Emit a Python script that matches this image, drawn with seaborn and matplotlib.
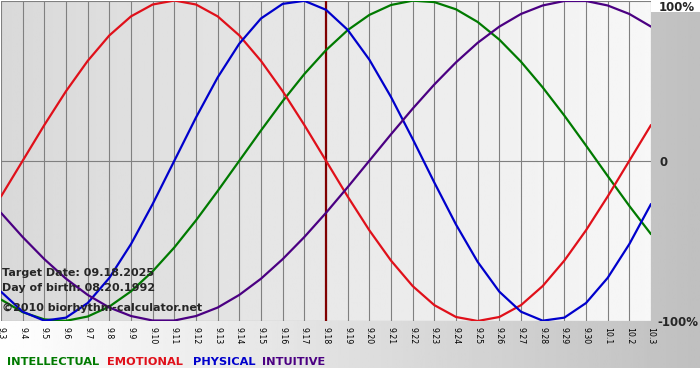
import numpy as np
import pandas as pd
import matplotlib
matplotlib.use('Agg')
import matplotlib.pyplot as plt
import seaborn as sns

# ---- data (percent, one value per day) ----
days = ['9.3', '9.4', '9.5', '9.6', '9.7', '9.8', '9.9', '9.10', '9.11', '9.12',
        '9.13', '9.14', '9.15', '9.16', '9.17', '9.18', '9.19', '9.20', '9.21', '9.22',
        '9.23', '9.24', '9.25', '9.26', '9.27', '9.28', '9.29', '9.30', '10.1', '10.2', '10.3']

physical = [-81.7, -94.2, -99.8, -97.9, -88.8, -73.1, -52.0, -27.0, 0.0, 27.0,
            52.0, 73.1, 88.8, 97.9, 99.8, 94.2, 81.7, 63.1, 39.8, 13.6,
            -13.6, -39.8, -63.1, -81.7, -94.2, -99.8, -97.9, -88.8, -73.1, -52.0, -27.0]
emotional = [-22.3, 0.0, 22.3, 43.4, 62.3, 78.2, 90.1, 97.5, 100.0, 97.5,
             90.1, 78.2, 62.3, 43.4, 22.3, 0.0, -22.3, -43.4, -62.3, -78.2,
             -90.1, -97.5, -100.0, -97.5, -90.1, -78.2, -62.3, -43.4, -22.3, 0.0, 22.3]
intellectual = [-86.6, -94.5, -99.0, -99.9, -97.2, -91.0, -81.5, -69.0, -54.1, -37.2,
                -18.9, 0.0, 18.9, 37.2, 54.1, 69.0, 81.5, 91.0, 97.2, 99.9,
                99.0, 94.5, 86.6, 75.6, 61.8, 45.8, 28.2, 9.5, -9.5, -28.2, -45.8]
intuitive = [-32.5, -47.6, -61.4, -73.6, -83.7, -91.6, -96.9, -99.7, -99.7, -96.9,
             -91.6, -83.7, -73.6, -61.4, -47.6, -32.5, -16.5, 0.0, 16.5, 32.5,
             47.6, 61.4, 73.6, 83.7, 91.6, 96.9, 99.7, 99.7, 96.9, 91.6, 83.7]

target_day = '9.18'
series_names = ['INTELLECTUAL', 'EMOTIONAL', 'PHYSICAL', 'INTUITIVE']
series_values = [intellectual, emotional, physical, intuitive]

colors = {'INTELLECTUAL': '#007a00', 'EMOTIONAL': '#e0101a',
          'PHYSICAL': '#0000cc', 'INTUITIVE': '#4b0082'}

frames = []
for name, vals in zip(series_names, series_values):
    frames.append(pd.DataFrame({'day': range(len(days)), 'value': vals, 'series': name}))
df = pd.concat(frames, ignore_index=True)

sns.set_theme(style='white')
plt.rcParams['font.family'] = ['DejaVu Sans']

W, H = 700, 380
fig = plt.figure(figsize=(7, 3.8), dpi=100)
fig.patch.set_facecolor('white')

# figure background gradient (white -> grey)
bg = fig.add_axes([0, 12 / H, 1, 356 / H], zorder=-1)
bg.imshow(np.linspace(1.0, 0.75, 256)[None, :], cmap='gray', vmin=0, vmax=1,
          aspect='auto', extent=[0, 1, 0, 1])
bg.axis('off')

ax = fig.add_axes([1 / W, 59 / H, 650 / W, 320.5 / H], zorder=1)
ax.imshow(np.linspace(0.85, 0.97, 256)[None, :], cmap='gray', vmin=0, vmax=1,
          aspect='auto', extent=[0, len(days) - 1, -100, 100], zorder=0)

sns.lineplot(data=df, x='day', y='value', hue='series', palette=colors,
             hue_order=series_names, legend=False, ax=ax, linewidth=1.6, zorder=3)

ax.axvline(days.index(target_day), color='#800000', lw=1.6, zorder=2)

ax.set_xlim(0, len(days) - 1)
ax.set_ylim(-100, 100)
ax.set_xticks(range(len(days)))
ax.set_xticklabels(days, rotation=270, fontsize=5.6)
ax.set_yticks([-100, 0, 100])
ax.grid(True, color='#808080', lw=0.8)
ax.tick_params(axis='x', length=2, width=0.8, color='#808080', pad=2, colors='black')
ax.tick_params(axis='y', length=0, labelleft=False)
ax.set_xlabel('')
ax.set_ylabel('')
for s in ax.spines.values():
    s.set_visible(False)

# right side scale labels
fig.text(659 / W, 1 - 10.7 / H, '100%', fontsize=8.5, fontweight='bold', va='baseline')
fig.text(659 / W, 1 - 165.7 / H, '0', fontsize=8.5, fontweight='bold', va='baseline')
fig.text(657 / W, 1 - 326 / H, '-100%', fontsize=8.5, fontweight='bold', va='baseline')

# info text
fig.text(2 / W, 1 - 276 / H, 'Target Date: 09.18.2025', fontsize=8, fontweight='bold', va='baseline')
fig.text(2 / W, 1 - 290.7 / H, 'Day of birth: 08.20.1992', fontsize=8, fontweight='bold', va='baseline')
fig.text(2 / W, 1 - 311 / H, '\u00a92010 biorhythm-calculator.net', fontsize=8, fontweight='bold', va='baseline')

# legend row
for name, x in zip(series_names, [7, 107, 193, 262]):
    fig.text(x / W, 1 - 365 / H, name, color=colors[name], fontsize=8.2,
             fontweight='bold', va='baseline')

fig.savefig('out.png', dpi=100)
